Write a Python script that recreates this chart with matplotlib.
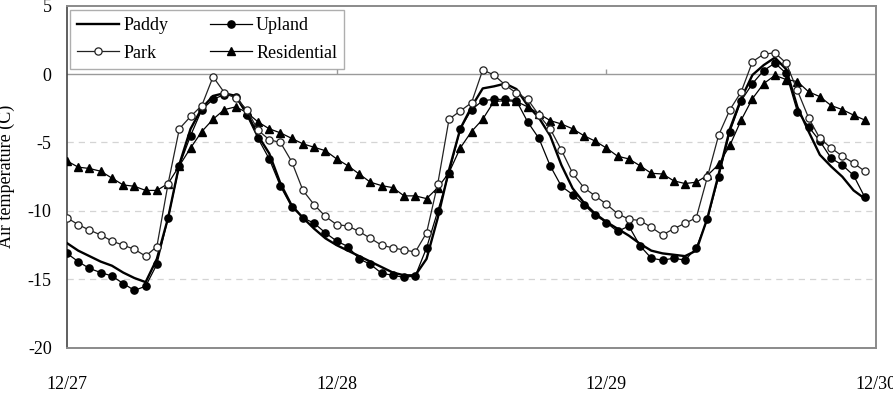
import numpy as np
import matplotlib
matplotlib.use('Agg')
import matplotlib.pyplot as plt

# --- Data (hourly air temperature, 12/27 00:00 - 12/29 23:00) ---
hours = np.arange(72)
day_ticks = [0, 24, 48, 72]
day_labels = ['12/27', '12/28', '12/29', '12/30']

paddy = [-12.35, -12.9, -13.3, -13.7, -14.0, -14.5, -14.9, -15.2, -13.5, -10.5, -6.6, -4.0,
         -2.5, -1.6, -1.4, -1.6, -2.8, -4.5, -5.8, -8.0, -9.6, -10.5, -11.3, -12.0,
         -12.5, -12.9, -13.3, -13.7, -14.1, -14.5, -14.7, -14.7, -13.5, -10.5, -7.0, -4.0,
         -2.4, -1.05, -0.9, -0.7, -1.1, -2.3, -3.2, -4.5, -6.65, -8.35, -9.4, -10.2,
         -10.8, -11.3, -11.8, -12.4, -12.9, -13.1, -13.2, -13.3, -12.9, -10.5, -7.3, -4.0,
         -1.8, -0.07, 0.65, 1.2, 0.35, -2.4, -4.2, -5.9, -6.75, -7.5, -8.5, -9.1]

upland = [-13.1, -13.7, -14.2, -14.5, -14.75, -15.3, -15.8, -15.5, -13.9, -10.5, -6.7, -4.5,
          -2.6, -1.85, -1.5, -1.65, -3.0, -4.7, -6.2, -8.2, -9.7, -10.5, -10.9, -11.6,
          -12.2, -12.6, -13.5, -13.9, -14.55, -14.7, -14.85, -14.75, -12.7, -10.0, -7.25, -4.0,
          -2.6, -1.95, -1.85, -1.85, -1.95, -3.5, -4.7, -6.7, -8.2, -8.8, -9.55, -10.3,
          -10.85, -11.5, -11.1, -12.55, -13.45, -13.6, -13.45, -13.6, -12.7, -10.6, -7.5, -4.2,
          -1.95, -0.7, 0.25, 0.8, 0.05, -2.75, -3.85, -4.9, -6.15, -6.65, -7.4, -9.0]

park = [-10.5, -11.0, -11.4, -11.75, -12.2, -12.5, -12.8, -13.3, -12.6, -8.0, -4.0, -3.1,
        -2.3, -0.2, -1.35, -1.75, -2.6, -4.1, -4.8, -5.0, -6.4, -8.5, -9.55, -10.4,
        -11.0, -11.1, -11.5, -12.0, -12.5, -12.7, -12.85, -13.0, -11.6, -8.0, -3.3, -2.7,
        -2.1, 0.3, -0.07, -0.8, -1.4, -1.85, -3.0, -4.0, -5.55, -7.25, -8.3, -8.9,
        -9.5, -10.2, -10.6, -10.7, -11.2, -11.75, -11.3, -10.9, -10.5, -7.5, -4.45, -2.6,
        -1.3, 0.9, 1.45, 1.55, 0.8, -1.2, -3.2, -4.7, -5.4, -6.0, -6.5, -7.1]

residential = [-6.35, -6.8, -6.9, -7.1, -7.6, -8.1, -8.2, -8.5, -8.5, -8.0, -6.7, -5.4,
               -4.2, -3.3, -2.6, -2.4, -2.8, -3.5, -4.0, -4.3, -4.7, -5.1, -5.35, -5.6,
               -6.2, -6.7, -7.3, -7.9, -8.15, -8.3, -8.9, -8.9, -9.1, -8.3, -7.2, -5.4,
               -4.2, -3.3, -2.0, -1.95, -2.0, -2.4, -2.9, -3.4, -3.65, -4.0, -4.5, -4.9,
               -5.4, -6.0, -6.2, -6.7, -7.25, -7.3, -7.8, -8.0, -7.9, -7.4, -6.6, -5.2,
               -3.36, -1.8, -0.7, -0.1, -0.4, -0.55, -1.3, -1.65, -2.3, -2.6, -3.0, -3.36]

y_ticks = [5, 0, -5, -10, -15, -20]
grid_levels = [-5, -10, -15]

# --- Plot ---
plt.rcParams['font.family'] = ['Liberation Serif', 'DejaVu Serif']
plt.rcParams['font.size'] = 13
plt.rcParams['axes.unicode_minus'] = False   # plain hyphen like the original

fig = plt.figure(figsize=(8.93, 3.98), dpi=100)
ax = fig.add_axes([0.075, 0.126, 0.906, 0.86])

for g in grid_levels:
    ax.axhline(g, color='#d4d4d4', lw=0.9, ls=(0, (5, 4)), zorder=0)
ax.axhline(0, color='#9a9a9a', lw=1.0, zorder=1)
ax.vlines(day_ticks[1:-1], 0, 0.35, color='#9a9a9a', lw=1.0, zorder=1)

ax.plot(hours, paddy, color='black', lw=1.7, label='Paddy', zorder=3)
ax.plot(hours, upland, color='black', lw=0.9, marker='o', ms=5.2,
        mfc='black', mec='black', label='Upland', zorder=4)
ax.plot(hours, park, color='#222222', lw=0.9, marker='o', ms=5.2,
        mfc='white', mec='#222222', mew=0.9, label='Park', zorder=5)
ax.plot(hours, residential, color='black', lw=0.9, marker='^', ms=5.5,
        mfc='black', mec='black', label='Residential', zorder=4)

ax.set_xlim(0, 72)
ax.set_ylim(-20, 5)
ax.set_yticks(y_ticks)
ax.set_xticks(day_ticks)
ax.set_xticklabels(day_labels)
ax.tick_params(axis='y', length=0, pad=11)
ax.tick_params(axis='x', length=0, pad=20)

for side in ['top', 'right', 'bottom']:
    ax.spines[side].set_color('#8a8a8a')
    ax.spines[side].set_linewidth(1.4)
ax.spines['left'].set_color('#444444')
ax.spines['left'].set_linewidth(1.2)

ax.set_ylabel('Air temperature (C)')
ax.yaxis.set_label_coords(-0.064, 0.5)

handles, labels = ax.get_legend_handles_labels()
order = [0, 2, 1, 3]
leg = ax.legend([handles[i] for i in order], [labels[i] for i in order],
                ncol=2, loc='upper left', bbox_to_anchor=(0.004, 0.988),
                borderaxespad=0, frameon=True, fancybox=False,
                handlelength=2.3, columnspacing=2.3, handletextpad=0.25,
                labelspacing=0.6, borderpad=0.4)
leg.get_frame().set_edgecolor('#9a9a9a')
leg.get_frame().set_linewidth(1.0)

fig.savefig('out.png', dpi=100, facecolor='white')
